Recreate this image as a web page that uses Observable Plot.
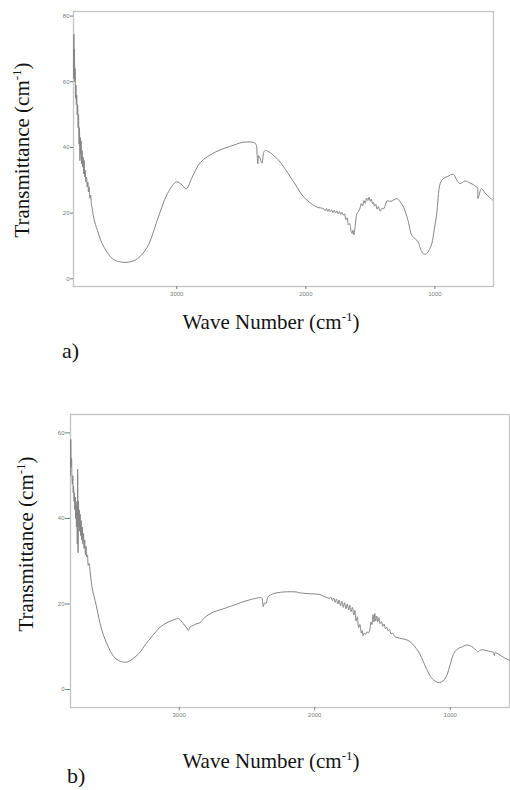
<!DOCTYPE html>
<html><head><meta charset="utf-8">
<script src="https://cdn.jsdelivr.net/npm/d3@7"></script>
<script src="https://cdn.jsdelivr.net/npm/@observablehq/plot@0.6"></script>
<style>
body{margin:0;background:#fff;}
#wrap{position:relative;width:510px;height:790px;overflow:hidden;background:#fff;}
.panel{position:absolute;left:0;}
#overlay{position:absolute;left:0;top:0;}
</style></head><body><div id="wrap"></div>
<script>
// ---- Panel a) data (wave number, transmittance) ----
const waveA = [3800,3797,3795,3793,3790,3787,3784,3781,3778,3775,3771,3768,3764,3761,3757,3754,3750,3747,3744,3741,3737,3733,3729,3725,3721,3717,3713,3709,3704,3699,3694,3689,3684,3679,3673,3667,3661,3655,3648,3640,3630,3614,3590,3563,3530,3498,3434,3370,3305,3228,3151,3073,3001,2957,2931,2919,2880,2815,2700,2558,2481,2390,2378,2372,2365,2357,2348,2339,2326,2313,2223,2094,2016,1913,1887,1860,1850,1840,1830,1820,1810,1800,1790,1780,1770,1760,1750,1740,1730,1720,1710,1700,1690,1680,1670,1660,1650,1642,1635,1628,1620,1604,1590,1578,1570,1560,1550,1540,1530,1520,1510,1501,1492,1484,1476,1468,1458,1448,1438,1424,1410,1398,1380,1372,1340,1294,1270,1243,1210,1179,1153,1130,1110,1089,1070,1050,1024,1005,986,959,934,900,857,830,805,780,766,740,700,676,670,666,640,612,580,553];
const transA = [61,74.5,62,70,60,64,55,59,53,56,50,53,46,50,41,46,36,43,38,42,35,39,34,37,32,36,31,33,29.5,31,28,29.5,26.5,28,24.5,25.5,22.5,21.5,19.5,18,16.5,14.7,11.8,9.6,7.5,6.1,5.1,5.1,6.1,9.7,17.8,25.9,29.5,28.5,27.4,27.6,31,35.5,38.6,40.7,41.6,41.2,38,35,37.5,37,36,35.2,38.5,39.1,36.6,29.5,24.9,21.8,21.6,21.3,20.7,21.4,20.5,21.2,20.4,21.0,20.2,20.9,20.0,20.7,19.8,20.5,19.6,20.3,19.4,19.8,18.0,18.6,16.4,16.8,14.6,13.8,14.8,13.4,15.2,19.8,20.6,21.8,22.9,22.2,23.8,23.0,24.6,23.8,24.9,23.6,24.3,22.9,23.4,22.1,22.7,21.2,22.0,20.6,21.5,21.3,23.0,23.7,23.6,24.4,23.5,21.8,18,13.2,12.2,11.2,9.0,7.6,7.5,8.4,10.7,15,19.8,29,30.5,31.2,31.8,30,29,29.5,29.8,29.4,28.6,27.9,27.8,24.4,27.4,26.2,24.9,24.0,23.4];

// ---- Panel b) data (wave number, transmittance) ----
const waveB = [3802,3800,3797,3794,3791,3788,3785,3782,3779,3776,3773,3770,3767,3764,3761,3758,3755,3752,3749,3746,3743,3740,3737,3734,3731,3727,3723,3719,3715,3711,3706,3702,3697,3692,3687,3682,3677,3671,3665,3657,3648,3638,3620,3600,3583,3560,3522,3490,3449,3388,3326,3287,3250,3204,3140,3081,3030,3005,2970,2945,2933,2920,2897,2870,2847,2810,2749,2700,2600,2477,2391,2385,2379,2370,2360,2350,2342,2306,2232,2133,2109,1987,1962,1888,1880,1870,1860,1850,1840,1830,1820,1810,1800,1790,1780,1770,1760,1750,1741,1732,1722,1712,1704,1695,1686,1676,1667,1657,1650,1643,1635,1625,1615,1605,1594,1585,1578,1570,1563,1557,1550,1543,1535,1527,1518,1508,1498,1488,1478,1468,1459,1448,1437,1425,1410,1385,1360,1312,1280,1251,1226,1200,1176,1140,1103,1080,1054,1030,1005,985,968,940,919,880,858,830,810,796,780,759,720,690,680,675,670,640,610,576,563];
const transB = [50,58.5,52,54,49.5,48,50,46,47.5,44,46,42,45,40,44,38,43,34,51.5,32,44,38,42,37,41,36,39.5,35,38,34,36.5,33,35,31.5,33.5,31,31.5,29,29.5,27.5,25,23,20.8,17.8,15.4,12.8,9.9,8.0,6.8,6.4,7.6,8.8,10.5,12.3,14.6,15.8,16.4,16.6,15.4,14.4,13.8,14.6,15.0,15.4,15.6,16.9,18.1,18.6,19.7,21.0,21.4,20.5,19.4,20.3,20.1,21.2,21.8,22.4,22.8,22.8,22.6,22.3,22.2,21.3,21.6,20.8,21.4,20.4,21.2,20.0,20.9,19.6,20.6,19.2,20.3,18.9,20.0,18.6,19.7,18.2,19.2,17.4,18.5,16.0,17.0,14.5,15.2,13.2,13.8,12.6,13.2,12.9,13.5,13.2,14.0,15.8,15.2,17.5,15.8,17.8,16.0,17.2,15.8,16.8,15.4,15.9,14.8,15.3,14.2,14.6,13.8,14.0,13.0,13.2,12.4,12.1,11.9,11.5,10.7,9.6,8.4,6.6,4.9,2.8,1.8,1.6,2.0,3.0,5.3,7.5,8.8,9.6,9.9,10.4,10.3,9.8,9.2,8.8,9.2,9.3,9.0,8.8,8.6,7.9,8.6,8.2,7.6,7.0,6.8];

// ---- ticks and text ----
const xTicks = [3000, 2000, 1000];
const yTicksA = [0, 20, 40, 60, 80];
const yTicksB = [0, 20, 40, 60];
const xLabel = "Wave Number (cm";
const yLabel = "Transmittance (cm";
const sup = "-1";
const panelTags = ["a)", "b)"];

const wrap = document.getElementById("wrap");

function panel(o) {
  const data = o.wave.map((w, i) => ({w, t: o.trans[i]}));
  const svg = Plot.plot({
    width: 510, height: o.height,
    marginTop: o.mt, marginBottom: o.mb, marginLeft: o.ml, marginRight: o.mr,
    x: {domain: o.xDomain},
    y: {domain: o.yDomain},
    style: {background: "transparent", fontFamily: "'Liberation Sans', Arial, sans-serif", overflow: "visible"},
    marks: [
      Plot.frame({stroke: "#c4c4c4", strokeWidth: 1.3}),
      Plot.axisX({ticks: xTicks, tickSize: 3, tickPadding: 2, fontSize: 6, color: "#7a7a7a", label: null, tickFormat: d => String(d)}),
      Plot.axisY({ticks: o.yTicks, tickSize: o.tsy, tickPadding: 1, fontSize: 6, color: "#7a7a7a", label: null, tickFormat: d => String(d)}),
      Plot.line(data, {x: "w", y: "t", stroke: "#858585", strokeWidth: 1, curve: "catmull-rom"})
    ]
  });
  svg.classList.add("panel");
  svg.style.top = o.top + "px";
  wrap.appendChild(svg);
}

panel({wave: waveA, trans: transA, top: 0, height: 300, mt: 11, mb: 14, ml: 73, mr: 17,
  xDomain: [3800, 546], yDomain: [-2.35, 81.4], yTicks: yTicksA, tsy: 3});
panel({wave: waveB, trans: transB, top: 400, height: 320, mt: 14, mb: 13, ml: 70, mr: 1,
  xDomain: [3802, 563], yDomain: [-4.2, 64.3], yTicks: yTicksB, tsy: 5});

// ---- text overlay ----
const ov = d3.select(wrap).append("svg").attr("id", "overlay")
  .attr("width", 510).attr("height", 790)
  .style("font-family", "'Liberation Serif', 'Times New Roman', serif")
  .style("fill", "#141414");

function label(x, y, rot, main) {
  const t = ov.append("text").attr("text-anchor", "middle").attr("font-size", 21)
    .attr("transform", `translate(${x},${y})` + (rot ? " rotate(-90)" : ""));
  t.append("tspan").text(main);
  t.append("tspan").attr("font-size", 13).attr("dy", -8).text(sup);
  t.append("tspan").attr("dy", 8).text(")");
}
label(271, 329, false, xLabel);
label(29, 150, true, yLabel);
label(271, 768, false, xLabel);
label(33, 544, true, yLabel);

ov.append("text").attr("x", 62).attr("y", 358).attr("font-size", 22).text(panelTags[0]);
ov.append("text").attr("x", 67).attr("y", 783).attr("font-size", 22).text(panelTags[1]);
</script></body></html>
